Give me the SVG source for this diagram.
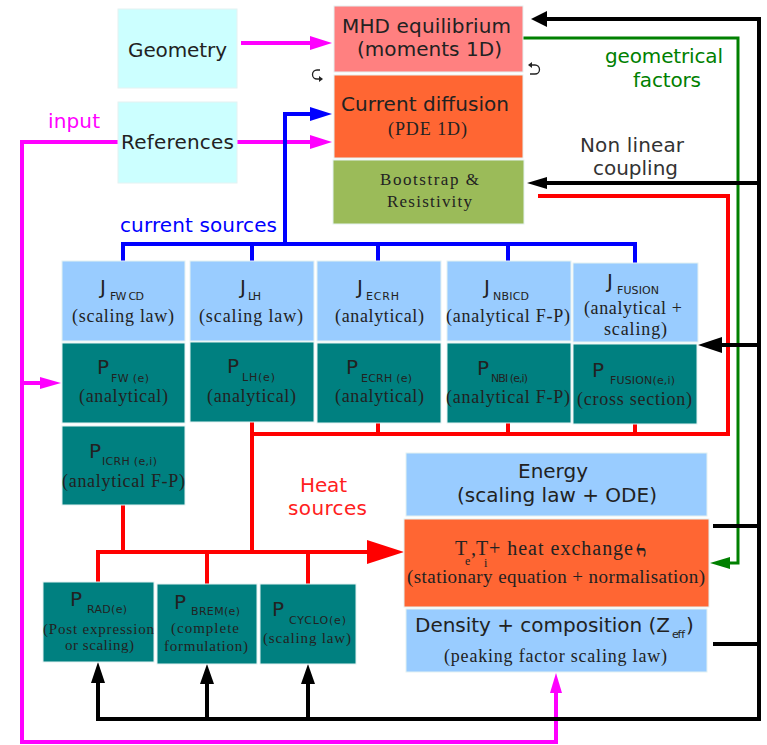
<svg xmlns="http://www.w3.org/2000/svg" width="767" height="745" viewBox="0 0 767 745">
  <style>
    .box { stroke: #e4f2f2; stroke-width: 1; }
    .cyan { fill: #ccffff; }
    .pink { fill: #ff8080; }
    .orange { fill: #ff6633; }
    .olive { fill: #9bbb59; }
    .lblue { fill: #99ccff; }
    .teal { fill: #008080; }
    .sans { font-family: "DejaVu Sans", Verdana, sans-serif; font-size: 20px; fill: #222; }
    .serif { font-family: "Liberation Serif", "DejaVu Serif", serif; font-size: 18px; fill: #222; }
    .small { font-size: 15px; }
    .sub { font-family: "DejaVu Sans", Verdana, sans-serif; font-size: 11px; fill: #222; }
    .sym { font-family: "DejaVu Sans", sans-serif; font-size: 20px; fill: #222; }
    .wire { fill: none; stroke-width: 4; stroke-linejoin: miter; }
    .mag { stroke: #ff00ff; }
    .blu { stroke: #0000ff; }
    .red { stroke: #ff0000; }
    .blk { stroke: #000000; }
    .grn { stroke: #008000; stroke-width: 3; }
    .loop { fill: none; stroke: #222; stroke-width: 1.3; }
  </style>

  <!-- connectors -->
  <g id="connectors">
    <!-- inputs (magenta) -->
    <path class="wire mag" d="M241,43 H312"/>
    <path class="wire mag" d="M237,142 H312"/>
    <path class="wire mag" d="M118,142 H22 V742 H556 V691"/>
    <path class="wire mag" d="M22,383 H42"/>
    <polygon fill="#ff00ff" points="332,43 310,36 310,50"/>
    <polygon fill="#ff00ff" points="332,142 310,135 310,149"/>
    <polygon fill="#ff00ff" points="61,383 40,377 40,389"/>
    <polygon fill="#ff00ff" points="556,673 550,693 562,693"/>

    <!-- current sources (blue) -->
    <path class="wire blu" d="M123,261 V244 H635 V263"/>
    <path class="wire blu" d="M252,244 V261 M378,244 V261 M508,244 V261"/>
    <path class="wire blu" d="M285,244 V114 H312"/>
    <polygon fill="#0000ff" points="332,114 310,107 310,121"/>

    <!-- heat sources (red) -->
    <path class="wire red" d="M538,196 H728 V434 H252"/>
    <path class="wire red" d="M378,423 V434 M508,423 V434 M635,424 V434"/>
    <path class="wire red" d="M252,422 V552"/>
    <path class="wire red" d="M123,505 V552"/>
    <path class="wire red" d="M98,582 V552 H370"/>
    <path class="wire red" d="M207,552 V584 M308,552 V584"/>
    <polygon fill="#ff0000" points="404,552 367,540 367,564"/>

    <!-- geometrical factors (green) -->
    <path class="wire grn" d="M523,38 H738 V563 H728"/>
    <polygon fill="#008000" points="710,563 730,557 730,569"/>

    <!-- non linear coupling (black) -->
    <path class="wire blk" d="M98,683 V719 H759 V19 H544"/>
    <path class="wire blk" d="M207,683 V719 M308,683 V719"/>
    <path class="wire blk" d="M759,183 H545"/>
    <path class="wire blk" d="M759,345 H720"/>
    <path class="wire blk" d="M713,526 H759 M713,644 H759"/>
    <polygon fill="#000" points="531,19 547,11 547,27"/>
    <polygon fill="#000" points="527,183 547,177 547,189"/>
    <polygon fill="#000" points="698,345 722,337 722,353"/>
    <polygon fill="#000" points="98,662 91,683 105,683"/>
    <polygon fill="#000" points="207,664 200,684 214,684"/>
    <polygon fill="#000" points="308,664 301,684 315,684"/>

    <!-- iteration loop marks between equilibrium and current diffusion -->
    <path class="loop" d="M320,70 H317 A4.5,4.5 0 0 0 317,79 H320"/>
    <polygon fill="#222" points="323,79 319,76 319,82"/>
    <path class="loop" d="M531,65 H535 A4.5,4.5 0 0 1 535,74 H530"/>
    <polygon fill="#222" points="528,65 532,62 532,68"/>
  </g>

  <!-- free labels -->
  <g id="labels">
    <text class="sans" x="48" y="128" textLength="52" style="fill:#ff00ff">input</text>
    <text class="sans" x="120" y="232" textLength="157" style="fill:#0000ff">current sources</text>
    <text class="sans" x="605" y="63" textLength="118" style="fill:#008000">geometrical</text>
    <text class="sans" x="633" y="87" textLength="68" style="fill:#008000">factors</text>
    <text class="sans" x="580" y="152" textLength="104" style="fill:#333">Non linear</text>
    <text class="sans" x="593" y="175" textLength="85" style="fill:#333">coupling</text>
    <text class="sans" x="300" y="492" textLength="47" style="fill:#ff2020">Heat</text>
    <text class="sans" x="288" y="515" textLength="79" style="fill:#ff2020">sources</text>
  </g>

  <!-- equilibrium / current column -->
  <g id="geometry">
    <rect class="box cyan" x="118" y="9" width="119" height="79"/>
    <text class="sans" x="128" y="57" textLength="99">Geometry</text>
  </g>
  <g id="references">
    <rect class="box cyan" x="118" y="102" width="119" height="81"/>
    <text class="sans" x="121" y="149" textLength="113">References</text>
  </g>
  <g id="mhd">
    <rect class="box pink" x="334" y="6" width="189" height="66"/>
    <text class="sans" x="342" y="33" textLength="169">MHD equilibrium</text>
    <text class="sans" x="357" y="56" textLength="145">(moments 1D)</text>
  </g>
  <g id="current-diffusion">
    <rect class="box orange" x="334" y="75" width="189" height="83"/>
    <text class="sans" x="341" y="111" textLength="168">Current diffusion</text>
    <text class="serif" x="388" y="135" textLength="79">(PDE 1D)</text>
  </g>
  <g id="bootstrap">
    <rect class="box olive" x="333" y="160" width="191" height="64"/>
    <text class="serif" x="380" y="185" textLength="99" style="font-size:17px">Bootstrap &amp;</text>
    <text class="serif" x="387" y="207" textLength="85" style="font-size:17px">Resistivity</text>
  </g>

  <!-- current sources -->
  <g id="j-fwcd">
    <rect class="box lblue" x="62" y="261" width="123" height="80"/>
    <text class="sans" x="100" y="294">J</text>
    <text class="sub" x="110" y="300" textLength="34">FW CD</text>
    <text class="serif" x="72" y="322" textLength="102">(scaling law)</text>
  </g>
  <g id="j-lh">
    <rect class="box lblue" x="190" y="261" width="124" height="80"/>
    <text class="sans" x="240" y="294">J</text>
    <text class="sub" x="248" y="300" textLength="13">LH</text>
    <text class="serif" x="199" y="322" textLength="104">(scaling law)</text>
  </g>
  <g id="j-ecrh">
    <rect class="box lblue" x="317" y="261" width="124" height="80"/>
    <text class="sans" x="357" y="294">J</text>
    <text class="sub" x="366" y="300" textLength="33">ECRH</text>
    <text class="serif" x="335" y="322" textLength="89">(analytical)</text>
  </g>
  <g id="j-nbicd">
    <rect class="box lblue" x="447" y="261" width="124" height="80"/>
    <text class="sans" x="484" y="294">J</text>
    <text class="sub" x="493" y="300" textLength="36">NBICD</text>
    <text class="serif" x="446" y="322" textLength="124">(analytical F-P)</text>
  </g>
  <g id="j-fusion">
    <rect class="box lblue" x="573" y="263" width="125" height="79"/>
    <text class="sans" x="607" y="288">J</text>
    <text class="sub" x="617" y="294" textLength="42">FUSION</text>
    <text class="serif" x="584" y="314" textLength="98">(analytical +</text>
    <text class="serif" x="604" y="335" textLength="63">scaling)</text>
  </g>

  <!-- heat sources -->
  <g id="p-fw">
    <rect class="box teal" x="62" y="343" width="123" height="80"/>
    <text class="sans" x="97" y="374">P</text>
    <text class="sub" x="111" y="382" textLength="38">FW  (e)</text>
    <text class="serif" x="79" y="402" textLength="89">(analytical)</text>
  </g>
  <g id="p-lh">
    <rect class="box teal" x="190" y="342" width="124" height="80"/>
    <text class="sans" x="227" y="373">P</text>
    <text class="sub" x="242" y="381" textLength="33">LH(e)</text>
    <text class="serif" x="207" y="402" textLength="89">(analytical)</text>
  </g>
  <g id="p-ecrh">
    <rect class="box teal" x="317" y="343" width="124" height="80"/>
    <text class="sans" x="346" y="374">P</text>
    <text class="sub" x="361" y="382" textLength="51">ECRH (e)</text>
    <text class="serif" x="335" y="402" textLength="89">(analytical)</text>
  </g>
  <g id="p-nbi">
    <rect class="box teal" x="447" y="343" width="124" height="80"/>
    <text class="sans" x="477" y="375">P</text>
    <text class="sub" x="491" y="382" textLength="37">NBI (e,i)</text>
    <text class="serif" x="446" y="403" textLength="124">(analytical F-P)</text>
  </g>
  <g id="p-fusion">
    <rect class="box teal" x="573" y="344" width="124" height="80"/>
    <text class="sans" x="592" y="377">P</text>
    <text class="sub" x="610" y="384" textLength="65">FUSION(e,i)</text>
    <text class="serif" x="577" y="405" textLength="115">(cross section)</text>
  </g>
  <g id="p-icrh">
    <rect class="box teal" x="62" y="426" width="123" height="79"/>
    <text class="sans" x="89" y="458">P</text>
    <text class="sub" x="102" y="465" textLength="55">ICRH (e,i)</text>
    <text class="serif" x="62" y="487" textLength="123">(analytical F-P)</text>
  </g>

  <!-- losses -->
  <g id="p-rad">
    <rect class="box teal" x="43" y="582" width="111" height="80"/>
    <text class="sans" x="70" y="606">P</text>
    <text class="sub" x="87" y="613" textLength="40">RAD(e)</text>
    <text class="serif small" x="43" y="634" textLength="111">(Post expression</text>
    <text class="serif small" x="65" y="650" textLength="69">or scaling)</text>
  </g>
  <g id="p-brem">
    <rect class="box teal" x="157" y="584" width="100" height="80"/>
    <text class="sans" x="174" y="609">P</text>
    <text class="sub" x="191" y="615" textLength="49">BREM(e)</text>
    <text class="serif small" x="171" y="633" textLength="68">(complete</text>
    <text class="serif small" x="164" y="651" textLength="84">formulation)</text>
  </g>
  <g id="p-cyclo">
    <rect class="box teal" x="260" y="584" width="96" height="80"/>
    <text class="sans" x="272" y="616">P</text>
    <text class="sub" x="289" y="624" textLength="57">CYCLO(e)</text>
    <text class="serif small" x="263" y="643" textLength="88">(scaling law)</text>
  </g>

  <!-- transport block -->
  <g id="energy">
    <rect class="box lblue" x="406" y="453" width="301" height="63"/>
    <text class="sans" x="518" y="478" textLength="70">Energy</text>
    <text class="sans" x="457" y="502" textLength="200">(scaling law + ODE)</text>
  </g>
  <g id="temperatures">
    <rect class="box orange" x="404" y="519" width="305" height="88"/>
    <text class="serif" style="font-size:20px" x="455" y="555">T<tspan x="465" dy="10" style="font-size:12px">e</tspan><tspan x="471" dy="-10">,T</tspan><tspan x="484" dy="12" style="font-size:12px">i</tspan><tspan x="489" dy="-12" textLength="144">+ heat exchange</tspan></text>
    <text class="sym" transform="translate(636,540) scale(0.6,-1.5)">↩</text>
    <text class="serif" style="font-size:19px" x="407" y="583" textLength="298">(stationary equation + normalisation)</text>
  </g>
  <g id="density">
    <rect class="box lblue" x="406" y="609" width="301" height="63"/>
    <text class="sans" x="415" y="632" textLength="255">Density + composition (Z</text>
    <text class="sub" x="672" y="638" textLength="13">eff</text>
    <text class="sans" x="686" y="632">)</text>
    <text class="serif" x="444" y="662" textLength="223">(peaking factor scaling law)</text>
  </g>
</svg>
